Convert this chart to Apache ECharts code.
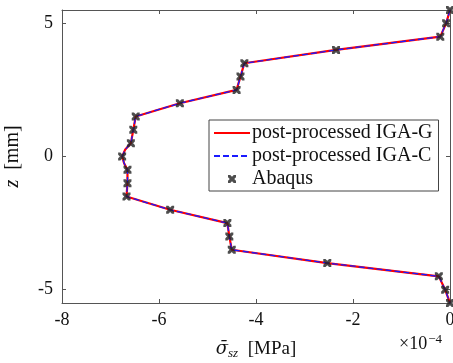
<!DOCTYPE html>
<html><head><meta charset="utf-8">
<script src="https://cdn.jsdelivr.net/npm/echarts@6/dist/echarts.min.js"></script>
<style>html,body{margin:0;padding:0;background:#fff}#c{width:453px;height:363px}</style>
</head><body><div id="c"></div>
<script>
// Abaqus reference points (stress in units of 1e-4 MPa)
const abaqusZ = [5.5,5,4.5,4,3.5,3,2.5,2,1.5,1,0.5,0,-0.5,-1,-1.5,-2,-2.5,-3,-3.5,-4,-4.5,-5,-5.5];
const abaqusStress = [0,-0.08,-0.2,-2.35,-4.24,-4.32,-4.40,-5.57,-6.48,-6.53,-6.58,-6.76,-6.65,-6.65,-6.67,-5.77,-4.59,-4.55,-4.50,-2.53,-0.23,-0.10,0];
// post-processed IGA curves
const igaZ = [5.5,5,4.5,4,3.5,3,2.5,2,1.5,1,0.5,0.25,0,-0.25,-0.5,-1,-1.5,-2,-2.5,-3,-3.5,-4,-4.5,-5,-5.5];
const igaGStress = [0,-0.08,-0.2,-2.35,-4.24,-4.32,-4.40,-5.57,-6.48,-6.53,-6.58,-6.70,-6.76,-6.72,-6.65,-6.65,-6.67,-5.77,-4.59,-4.55,-4.50,-2.53,-0.23,-0.10,0];
const igaCStress = igaGStress.slice();
const xTicks = [-8,-6,-4,-2,0];
const yTicks = [-5,0,5];
const seriesNames = ['post-processed IGA-G','post-processed IGA-C','Abaqus'];

const font = 'Liberation Serif';
const axisColor = '#555';
const xMark = 'path://M0,0 L2.8,0 L5,2.2 L7.2,0 L10,0 L10,2.8 L7.8,5 L10,7.2 L10,10 L7.2,10 L5,7.8 L2.8,10 L0,10 L0,7.2 L2.2,5 L0,2.8 Z';

const pair = (xs, ys) => xs.map((x, i) => [x, ys[i]]);

const chart = echarts.init(document.getElementById('c'));
const baseAxis = {
  axisLine: {show: true, onZero: false, lineStyle: {color: axisColor, width: 1}},
  axisTick: {show: true, inside: true, length: 4, lineStyle: {color: axisColor}},
  splitLine: {show: false}
};
chart.setOption({
  animation: false,
  backgroundColor: '#fff',
  grid: {left: 62, right: 3, top: 10, bottom: 60, containLabel: false, outerBoundsMode: 'none'},
  xAxis: [
    Object.assign({}, baseAxis, {type: 'value', min: -8, max: 0, interval: 2, position: 'bottom',
      axisLabel: {color: '#111', fontFamily: font, fontSize: 18, margin: 8,
        formatter: v => xTicks.includes(v) ? String(v) : ''},
      name: '{s|σ̄}{sub|sz}  [MPa]', nameLocation: 'middle', nameGap: 36, nameMoveOverlap: false,
      nameTextStyle: {color: '#111', fontFamily: font, fontSize: 19,
        rich: {s: {fontFamily: 'DejaVu Serif', fontSize: 18, fontStyle: 'italic', color: '#111'},
               sub: {fontFamily: font, fontSize: 13, fontStyle: 'italic', color: '#111', verticalAlign: 'bottom', padding: [8,0,0,0]}}}}),
    Object.assign({}, baseAxis, {type: 'value', min: -8, max: 0, interval: 2, position: 'top', axisLabel: {show: false}})
  ],
  yAxis: [
    Object.assign({}, baseAxis, {type: 'value', min: -5.5, max: 5.5, interval: 5, position: 'left',
      axisLabel: {color: '#111', fontFamily: font, fontSize: 18, margin: 9,
        customValues: yTicks, formatter: v => String(v)},
      axisTick: {show: true, inside: true, length: 4, lineStyle: {color: axisColor}, customValues: yTicks},
      name: '{z|z}  [mm]', nameLocation: 'middle', nameGap: 39, nameMoveOverlap: false,
      nameTextStyle: {color: '#111', fontFamily: font, fontSize: 20,
        rich: {z: {fontFamily: font, fontSize: 20, fontStyle: 'italic', color: '#111'}}}}),
    Object.assign({}, baseAxis, {type: 'value', min: -5.5, max: 5.5, interval: 5, position: 'right', axisLabel: {show: false},
      axisTick: {show: true, inside: true, length: 4, lineStyle: {color: axisColor}, customValues: yTicks}})
  ],
  legend: {
    left: 209, top: 120, orient: 'vertical',
    backgroundColor: '#fff', borderColor: '#444', borderWidth: 1,
    padding: [3, 6, 2, 4], itemGap: 3, itemWidth: 36, itemHeight: 8,
    textStyle: {fontFamily: font, fontSize: 20, color: '#111', padding: [0,0,0,-3], lineHeight: 20},
    data: [
      {name: seriesNames[0], itemStyle: {color: 'rgba(0,0,0,0)', borderWidth: 0}},
      {name: seriesNames[1], itemStyle: {color: 'rgba(0,0,0,0)', borderWidth: 0}},
      {name: seriesNames[2], icon: xMark, itemStyle: {color: '#222'}}
    ]
  },
  graphic: [{
    type: 'text', left: 399, top: 333,
    style: {text: '×10{sup|−4}', fontFamily: font, fontSize: 18, fill: '#111',
      rich: {sup: {fontFamily: font, fontSize: 13, fill: '#111', verticalAlign: 'top', padding: [0,0,9,1]}}}
  }],
  series: [
    {name: seriesNames[0], type: 'line', data: pair(igaGStress, igaZ), showSymbol: false, symbol: 'none',
      lineStyle: {color: '#ff0000', width: 2.2}, itemStyle: {color: '#ff0000'}, z: 2},
    {name: seriesNames[1], type: 'line', data: pair(igaCStress, igaZ), showSymbol: false, symbol: 'none',
      lineStyle: {color: '#1a1aff', width: 1.3, type: [6, 3]}, itemStyle: {color: '#1a1aff'}, z: 3},
    {name: seriesNames[2], type: 'scatter', data: pair(abaqusStress, abaqusZ), symbol: xMark, symbolSize: 8,
      itemStyle: {color: '#222'}, z: 4}
  ]
});
</script></body></html>
